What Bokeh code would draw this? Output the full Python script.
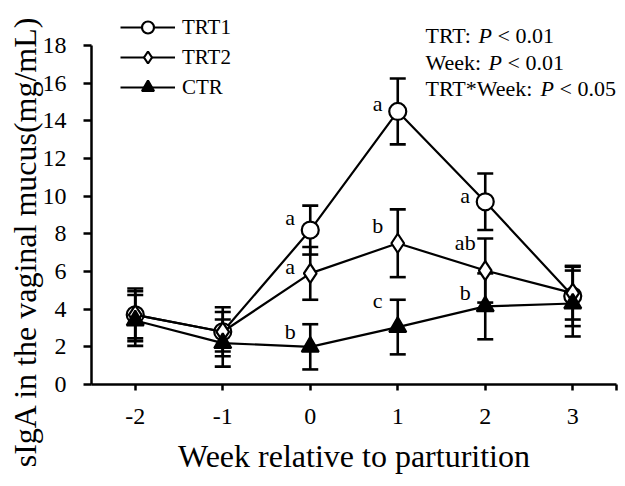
import math
from bokeh.plotting import figure
from bokeh.models import (Range1d, FixedTicker, Whisker, TeeHead, ColumnDataSource,
                          Legend, LegendItem, Label)
from bokeh.embed import file_html
from bokeh.resources import INLINE
from bokeh.core.properties import value

# ---------------- data ----------------
weeks = [-2, -1, 0, 1, 2, 3]
trt1 = [3.7, 2.8, 8.2, 14.5, 9.7, 4.7]
trt1_se = [1.4, 1.3, 1.3, 1.75, 1.5, 1.6]
trt2 = [3.7, 2.8, 5.9, 7.5, 6.05, 4.85]
trt2_se = [1.25, 1.05, 1.4, 1.8, 1.7, 1.4]
ctr = [3.4, 2.2, 2.0, 3.05, 4.15, 4.3]
ctr_se = [1.35, 1.25, 1.2, 1.45, 1.75, 1.75]

series_names = ["TRT1", "TRT2", "CTR"]

sig_week = [0, 0, 0, 1, 1, 1, 2, 2, 2]
sig_y = [8.87, 6.27, 2.81, 14.92, 8.44, 4.46, 10.04, 7.54, 4.89]
sig_text = ["a", "a", "b", "a", "b", "c", "a", "ab", "b"]

x_ticks = [-2, -1, 0, 1, 2, 3]
x_tick_labels = ["-2", "-1", "0", "1", "2", "3"]
y_ticks = [0, 2, 4, 6, 8, 10, 12, 14, 16, 18]

stats_pre = ["TRT: ", "Week: ", "TRT*Week: "]
stats_post = ["< 0.01", "< 0.01", "< 0.05"]

FONT = "Liberation Serif"

# ---------------- layout (pixels) ----------------
W, H = 624, 484
FL, FR, FT, FB = 91, 616, 45, 384      # plot box inside the canvas
X0, X1, Y0, Y1 = -2.5, 3.5, 0, 18
kx = (FR - FL) / (X1 - X0)
ky = (FB - FT) / (Y1 - Y0)

p = figure(width=W, height=H,
           x_range=Range1d(X0 - FL / kx, X1 + (W - FR) / kx),
           y_range=Range1d(Y0 - (H - FB) / ky, Y1 + FT / ky),
           output_backend="svg", toolbar_location=None,
           min_border=0, min_border_left=0, min_border_right=0,
           min_border_top=0, min_border_bottom=0)
p.outline_line_color = None
p.xgrid.visible = False
p.ygrid.visible = False
p.background_fill_color = "white"
p.border_fill_color = "white"

xa = p.xaxis[0]
ya = p.yaxis[0]
xa.fixed_location = Y0
ya.fixed_location = X0
xa.bounds = (X0, X1)
ya.bounds = (Y0, Y1)
xa.ticker = FixedTicker(ticks=x_ticks + [X1])
overrides = {t: s for t, s in zip(x_ticks, x_tick_labels)}
overrides[X1] = ""
xa.major_label_overrides = overrides
ya.ticker = FixedTicker(ticks=y_ticks)
for ax in (xa, ya):
    ax.axis_line_width = 2.5
    ax.axis_line_color = "black"
    ax.major_tick_line_width = 2.5
    ax.major_tick_line_color = "black"
    ax.minor_tick_line_color = None
    ax.major_tick_in = 0
    ax.major_label_text_font = FONT
    ax.major_label_text_font_size = "24px"
    ax.major_label_text_color = "black"
xa.major_tick_out = 6
ya.major_tick_out = 8
xa.major_label_standoff = 18
ya.major_label_standoff = 17
xa.axis_label = "Week relative to parturition"
xa.axis_label_text_font = FONT
xa.axis_label_text_font_size = "32px"
xa.axis_label_text_font_style = "normal"
xa.axis_label_text_color = "black"
xa.axis_label_standoff = 11

# y axis title (placed like the reference)
p.add_layout(Label(x=24, y=H - 241, x_units="screen", y_units="screen",
                   text="sIgA in the vaginal mucus(mg/mL)", angle=math.pi / 2,
                   text_align="center", text_baseline="alphabetic",
                   text_font=FONT, text_font_size="32px", text_color="black"))

src = ColumnDataSource(dict(
    week=weeks,
    trt1=trt1, trt1_lo=[v - e for v, e in zip(trt1, trt1_se)], trt1_hi=[v + e for v, e in zip(trt1, trt1_se)],
    trt2=trt2, trt2_lo=[v - e for v, e in zip(trt2, trt2_se)], trt2_hi=[v + e for v, e in zip(trt2, trt2_se)],
    ctr=ctr, ctr_lo=[v - e for v, e in zip(ctr, ctr_se)], ctr_hi=[v + e for v, e in zip(ctr, ctr_se)],
))

for key in ("trt1", "trt2", "ctr"):
    w = Whisker(base="week", upper=key + "_hi", lower=key + "_lo", source=src,
                line_color="black", line_width=2.6,
                upper_head=TeeHead(size=16, line_width=2.6, line_color="black"),
                lower_head=TeeHead(size=16, line_width=2.6, line_color="black"),
                level="underlay")
    p.add_layout(w)

items = []
marker_specs = {
    "trt1": dict(marker="circle", size=17, fill_color="white"),
    "trt2": dict(marker="diamond", size=19, fill_color="white"),
    "ctr": dict(marker="triangle", size=17, fill_color="black"),
}
for key, name in zip(("trt1", "trt2", "ctr"), series_names):
    ln = p.line("week", key, source=src, line_color="black", line_width=2.2)
    sc = p.scatter("week", key, source=src, line_color="black", line_width=2.2,
                   **marker_specs[key])
    items.append(LegendItem(label=name, renderers=[ln, sc]))

legend = Legend(items=items, location=(120, H - 102), glyph_width=55, glyph_height=30,
                label_height=30, spacing=0, padding=0, margin=0, label_standoff=7,
                border_line_alpha=0, background_fill_alpha=0,
                label_text_font=FONT, label_text_font_size="21px",
                label_text_color="black")
p.add_layout(legend)

sig_src = ColumnDataSource(dict(x=sig_week, y=sig_y, t=sig_text))
p.text("x", "y", text="t", source=sig_src, x_offset=-20, text_align="center",
       text_baseline="middle", text_font=value(FONT), text_font_size="22px",
       text_color="black")

# statistics block: plain text + italic P + plain text
sx0 = 425
baselines = [35, 62, 88]
p_at = [478, 488, 540]
for pre, post, yb, px in zip(stats_pre, stats_post, baselines, p_at):
    common = dict(y=H - yb, x_units="screen", y_units="screen", text_font=FONT,
                  text_font_size="22px", text_color="black", text_baseline="alphabetic")
    p.add_layout(Label(x=sx0, text=pre, **common))
    p.add_layout(Label(x=px, text="P", text_font_style="italic", **common))
    p.add_layout(Label(x=px + 19, text=post, **common))

open("out.html", "w").write(file_html(p, INLINE))
